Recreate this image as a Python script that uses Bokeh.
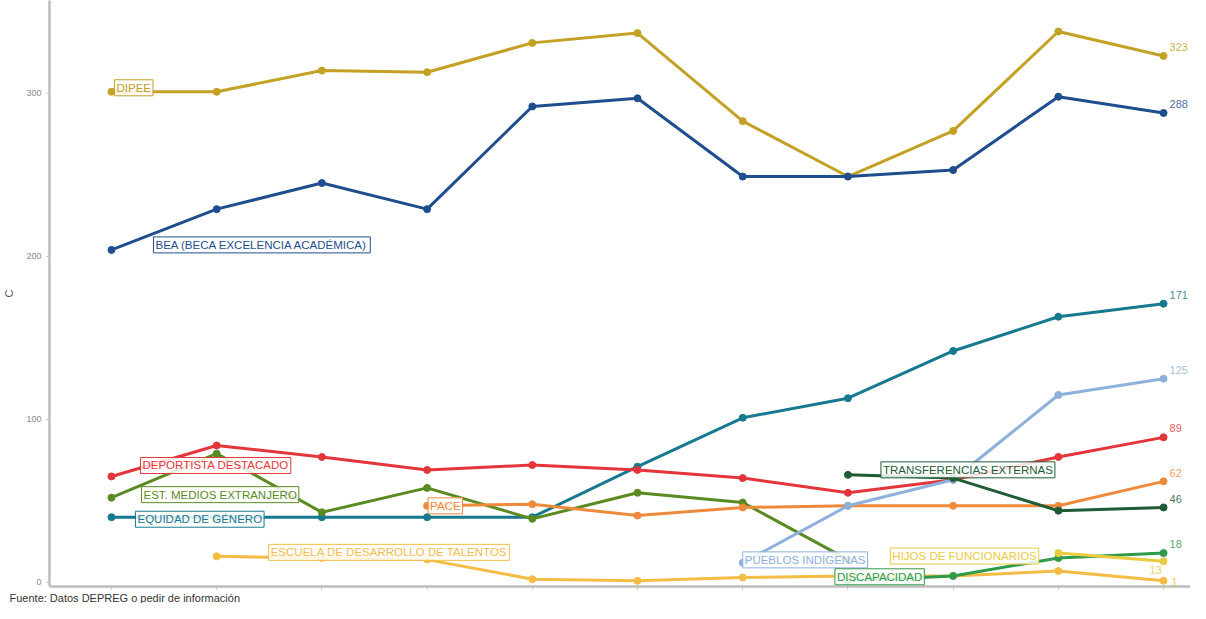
import math
from bokeh.plotting import figure
from bokeh.models import Label, Range1d, FixedTicker, Title
from bokeh.embed import file_html
from bokeh.resources import INLINE

nan = float("nan")

# ---------------- data ----------------
periodos = list(range(1, 12))
y_ticks = [0, 100, 200, 300]
caption = "Fuente: Datos DEPREG o pedir de información"
y_label = "C"

dipee = [301, 301, 314, 313, 331, 337, 283, 249, 277, 338, 323]
bea = [204, 229, 245, 229, 292, 297, 249, 249, 253, 298, 288]
equidad = [40, 40, 40, 40, 40, 71, 101, 113, 142, 163, 171]
deportista = [65, 84, 77, 69, 72, 69, 64, 55, 63, 77, 89]
est_medios = [52, 79, 43, 58, 39, 55, 49, 14, nan, nan, nan]
escuela = [nan, 16, 15, 14, 2, 1, 3, 4, 4, 7, 1]
pace = [nan, nan, nan, 47, 48, 41, 46, 47, 47, 47, 62]
pueblos = [nan, nan, nan, nan, nan, nan, 12, 47, 63, 115, 125]
transferencias = [nan, nan, nan, nan, nan, nan, nan, 66, 64, 44, 46]
discapacidad = [nan, nan, nan, nan, nan, nan, nan, 1, 4, 15, 18]
hijos = [nan, nan, nan, nan, nan, nan, nan, nan, nan, 18, 13]

names = ["DIPEE", "BEA (BECA EXCELENCIA ACADÉMICA)", "EQUIDAD DE GÉNERO",
         "DEPORTISTA DESTACADO", "EST. MEDIOS EXTRANJERO",
         "ESCUELA DE DESARROLLO DE TALENTOS", "PACE", "PUEBLOS INDÍGENAS",
         "TRANSFERENCIAS EXTERNAS", "DISCAPACIDAD", "HIJOS DE FUNCIONARIOS"]
values = [dipee, bea, equidad, deportista, est_medios, escuela, pace, pueblos,
          transferencias, discapacidad, hijos]

# ---------------- styles ----------------
colors = ["#C4A024", "#1F4E8F", "#17798F", "#E4353B", "#5A8A22", "#F5BC45",
          "#EE8A3C", "#8EB0DC", "#1E5C35", "#2E9A4A", "#E8CB3E"]
# label offsets (screen px) relative to each series' first point
label_off = [(3, 4), (42, 5), (24, -2), (29, 11), (30, 3), (52, 4), (1, 0),
             (0, 3), (33, 5), (-13, 4), (-168, -3)]
# end-value label offsets relative to last point
end_off = [(6, 9), (6, 9), (6, 9), (6, 9), (6, 8), (8, -1), (6, 8),
           (6, 9), (6, 8), (6, 9), (-14, -9)]

p = figure(width=1190, height=603, output_backend="svg", toolbar_location=None,
           x_range=Range1d(0.411, 11.256), y_range=Range1d(-2.5, 357),
           min_border_left=40, min_border_right=0, min_border_top=0,
           min_border_bottom=0)
p.outline_line_color = None
p.xgrid.visible = False
p.ygrid.visible = False
p.background_fill_color = "white"

p.yaxis.ticker = FixedTicker(ticks=y_ticks)
p.xaxis.ticker = FixedTicker(ticks=periodos)
p.xaxis.major_label_overrides = {i: "" for i in periodos}
for ax in (p.xaxis, p.yaxis):
    ax.axis_line_color = "#BDBDBD"
    ax.axis_line_width = 2.5
    ax.major_tick_line_color = "#BDBDBD"
    ax.major_tick_out = 3
    ax.major_tick_in = 0
    ax.minor_tick_line_color = None
p.xaxis.major_label_standoff = 0
p.xaxis.major_label_text_font_size = "1px"
p.yaxis.major_label_text_font_size = "9px"
p.yaxis.major_label_text_color = "#8A8A8A"
p.yaxis.major_label_text_font = "Liberation Sans"
p.yaxis.axis_label = y_label
p.yaxis.axis_label_text_font_size = "11px"
p.yaxis.axis_label_text_font_style = "normal"
p.yaxis.axis_label_text_color = "#555555"
p.yaxis.axis_label_standoff = 8

for name, vals, col, lo, eo in zip(names, values, colors, label_off, end_off):
    xs = [x for x, v in zip(periodos, vals) if not math.isnan(v)]
    ys = [v for v in vals if not math.isnan(v)]
    p.line(xs, ys, line_color=col, line_width=3)
    p.scatter(xs, ys, size=7, fill_color=col, line_color=col)
    p.add_layout(Label(x=xs[0], y=ys[0], x_offset=lo[0], y_offset=lo[1], text=name,
                       text_color=col, text_font="Liberation Sans", text_font_size="11.5px",
                       text_baseline="middle", text_align="left",
                       border_line_color=col, border_line_width=1,
                       background_fill_color="white", background_fill_alpha=0.85,
                       padding=2))
    if xs[-1] == periodos[-1]:
        p.add_layout(Label(x=xs[-1], y=ys[-1], x_offset=eo[0], y_offset=eo[1],
                           text=str(int(ys[-1])), text_color=col, text_alpha=0.85,
                           text_font="Liberation Sans", text_font_size="11px",
                           text_baseline="middle", text_align="left"))

p.add_layout(Title(text=caption, text_font_size="11px", align="left",
                   text_font_style="normal", text_color="#333333",
                   text_font="Liberation Sans", standoff=0, offset=-40), "below")

open("out.html", "w").write(file_html(p, INLINE))
